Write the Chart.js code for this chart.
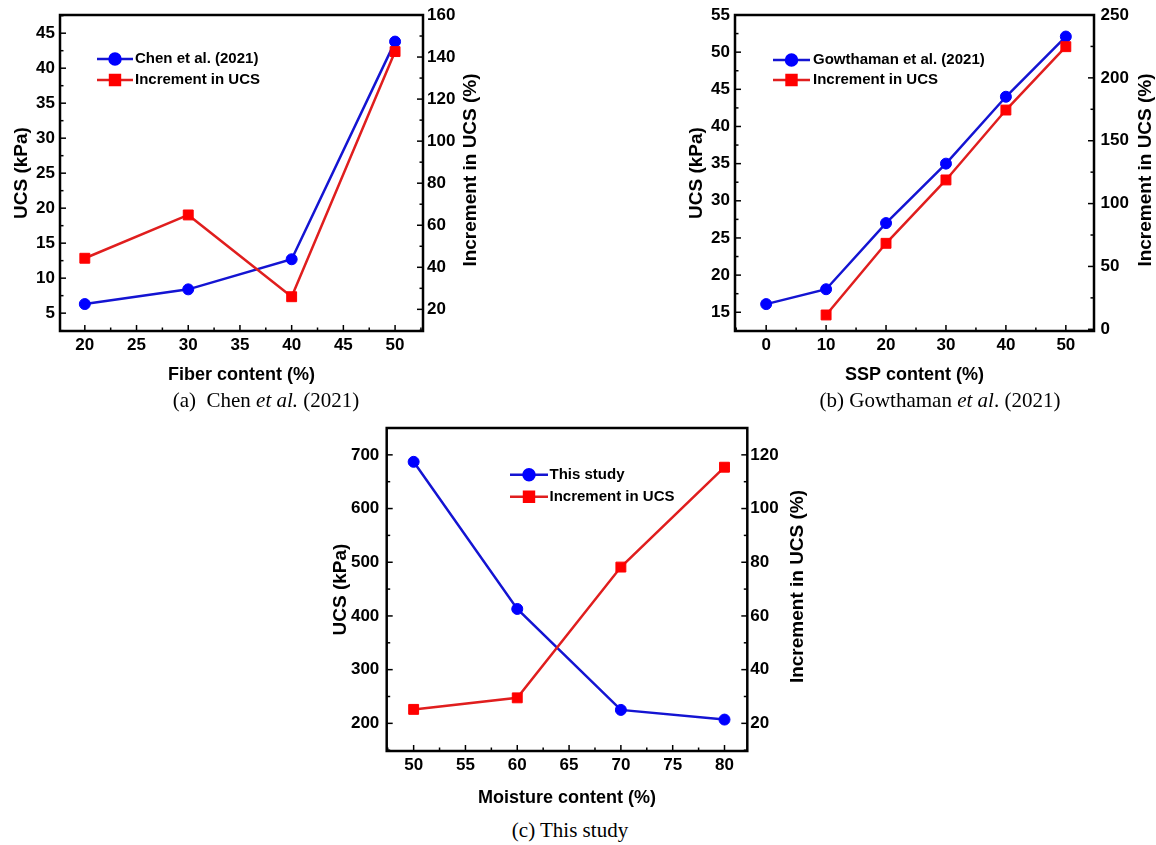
<!DOCTYPE html>
<html>
<head>
<meta charset="utf-8">
<script src="https://cdn.jsdelivr.net/npm/chart.js@4.4.1/dist/chart.umd.min.js"></script>
<style>
  body { margin: 0; background: #fff; width: 1156px; height: 845px; position: relative; overflow: hidden; }
  canvas { position: absolute; }
  .cap { position: absolute; font-family: "Liberation Serif", "Times New Roman", serif; font-size: 21px;
         white-space: pre; line-height: 1; transform: translate(-50%, -50%); color: #000; }
</style>
</head>
<body>
<canvas id="chartA" width="490" height="390" style="left:0;top:0"></canvas>
<canvas id="chartB" width="476" height="390" style="left:680px;top:0"></canvas>
<canvas id="chartC" width="500" height="390" style="left:320px;top:420px"></canvas>
<div class="cap" style="left:266px;top:400px">(a)  Chen <i>et al.</i> (2021)</div>
<div class="cap" style="left:940px;top:400px">(b) Gowthaman <i>et al</i>. (2021)</div>
<div class="cap" style="left:570px;top:830px">(c) This study</div>
<script>
// (a) Chen et al. (2021)
const fiberContent = [20, 30, 40, 50];
const chenUcs = [6.3, 8.4, 12.7, 43.8];
const chenIncrement = [44.3, 64.9, 26.0, 142.6];
const fiberTicks = [20, 25, 30, 35, 40, 45, 50];
const chenUcsTicks = [5, 10, 15, 20, 25, 30, 35, 40, 45];
const chenIncTicks = [20, 40, 60, 80, 100, 120, 140, 160];

// (b) Gowthaman et al. (2021)
const sspContent = [0, 10, 20, 30, 40, 50];
const gowUcs = [16.1, 18.1, 27.0, 35.0, 44.0, 52.1];
const gowIncrement = [null, 11.4, 68.4, 118.8, 174.4, 224.8];
const sspTicks = [0, 10, 20, 30, 40, 50];
const gowUcsTicks = [15, 20, 25, 30, 35, 40, 45, 50, 55];
const gowIncTicks = [0, 50, 100, 150, 200, 250];

// (c) This study
const moistureContent = [50, 60, 70, 80];
const studyUcs = [687, 413, 225, 207];
const studyIncrement = [25.2, 29.5, 78.2, 115.4];
const moistureTicks = [50, 55, 60, 65, 70, 75, 80];
const studyUcsTicks = [200, 300, 400, 500, 600, 700];
const studyIncTicks = [20, 40, 60, 80, 100, 120];

const FONT = '"Liberation Sans", Arial, sans-serif';
const BLUE = '#0000ff', BLUE_LINE = '#1414d2';
const RED = '#ff0000', RED_LINE = '#e01e1e';

// box around the plot + inward major/minor ticks
const frameTicks = {
  id: 'frameTicks',
  afterDatasetsDraw(chart) {
    const { ctx, chartArea: a } = chart;
    ctx.save();
    ctx.strokeStyle = '#000';
    ctx.lineWidth = 1.5;
    Object.values(chart.scales).forEach(s => {
      const major = s.ticks.map(t => t.value);
      const half = (major[1] - major[0]) / 2;
      let v = major[0] - Math.floor((major[0] - s.min) / half) * half;
      for (; v <= s.max + 1e-9; v += half) {
        const isMajor = major.some(m => Math.abs(m - v) < 1e-9);
        const len = isMajor ? 6 : 3.5;
        const p = s.getPixelForValue(v);
        ctx.beginPath();
        if (s.axis === 'x') { ctx.moveTo(p, a.bottom); ctx.lineTo(p, a.bottom - len); }
        else if (s.position === 'left') { ctx.moveTo(a.left, p); ctx.lineTo(a.left + len, p); }
        else { ctx.moveTo(a.right, p); ctx.lineTo(a.right - len, p); }
        ctx.stroke();
      }
    });
    ctx.lineWidth = 2.5;
    ctx.strokeRect(a.left, a.top, a.right - a.left, a.bottom - a.top);
    ctx.restore();
  }
};

// right axis title, reading bottom to top like the left one
const rightTitle = {
  id: 'rightTitle',
  afterDraw(chart, args, opts) {
    const { ctx, chartArea: a } = chart;
    const s = chart.scales.y1;
    ctx.save();
    ctx.translate(s.right - opts.offset, (a.top + a.bottom) / 2 - 3);
    ctx.rotate(-Math.PI / 2);
    ctx.font = 'bold 19px ' + FONT;
    ctx.fillStyle = '#000';
    ctx.textAlign = 'center';
    ctx.textBaseline = 'middle';
    ctx.fillText(s.options.title.text, 0, 0);
    ctx.restore();
  }
};

// legend drawn inside the plot area
const insideLegend = {
  id: 'insideLegend',
  afterDraw(chart, args, opts) {
    const { ctx, chartArea: a } = chart;
    const x0 = a.left + opts.dx, y0 = a.top + opts.dy;
    chart.data.datasets.forEach((ds, i) => {
      const y = y0 + i * opts.gap;
      ctx.save();
      ctx.strokeStyle = ds.borderColor;
      ctx.lineWidth = ds.borderWidth;
      ctx.beginPath(); ctx.moveTo(x0, y); ctx.lineTo(x0 + opts.len, y); ctx.stroke();
      ctx.fillStyle = ds.pointBackgroundColor;
      ctx.strokeStyle = ds.pointBorderColor;
      Chart.helpers.drawPoint(ctx, { pointStyle: ds.pointStyle, radius: ds.pointRadius, borderWidth: 1, rotation: 0 },
        x0 + opts.len / 2, y);
      ctx.fillStyle = '#000';
      ctx.font = 'bold 15px ' + FONT;
      ctx.textBaseline = 'middle';
      ctx.fillText(ds.label, x0 + opts.len + opts.textGap, y);
      ctx.restore();
    });
  }
};

function axis(pos, min, max, ticks, title, o) {
  const horizontal = pos === 'bottom';
  return {
    type: 'linear', position: pos, min, max,
    afterBuildTicks: s => { s.ticks = ticks.map(v => ({ value: v })); },
    afterFit: s => {
      if (horizontal) { s.height = o.size; s.paddingLeft = 0; s.paddingRight = 0; }
      else { s.width = o.size; s.paddingTop = 0; s.paddingBottom = 0; }
    },
    grid: { display: false, drawTicks: false },
    border: { display: false },
    ticks: { autoSkip: false, maxRotation: 0, color: '#000', padding: o.tickPad,
             font: { family: FONT, weight: 'bold', size: 17 } },
    title: { display: pos !== 'right', text: title, color: '#000', padding: o.titlePad,
             font: { family: FONT, weight: 'bold', size: horizontal ? 18 : 19 } }
  };
}

function ucsChart(id, o) {
  return new Chart(document.getElementById(id), {
    type: 'line',
    data: {
      datasets: [
        { label: o.label, data: o.x.map((x, i) => ({ x, y: o.ucs[i] })), yAxisID: 'y', order: 1,
          borderColor: BLUE_LINE, borderWidth: 2.5, pointStyle: 'circle', pointRadius: 5.5,
          pointBackgroundColor: BLUE, pointBorderColor: BLUE, pointBorderWidth: 1 },
        { label: 'Increment in UCS', data: o.x.map((x, i) => ({ x, y: o.inc[i] })), yAxisID: 'y1', order: 0,
          borderColor: RED_LINE, borderWidth: 2.5, pointStyle: 'rect', pointRadius: 7,
          pointBackgroundColor: RED, pointBorderColor: RED, pointBorderWidth: 1 }
      ]
    },
    options: {
      responsive: false,
      animation: false,
      layout: { padding: { top: o.top, left: 0, right: 0, bottom: 0 } },
      plugins: {
        legend: { display: false }, tooltip: { enabled: false },
        insideLegend: o.legend, rightTitle: { offset: o.y1TitleOffset }
      },
      scales: {
        x: axis('bottom', o.xRange[0], o.xRange[1], o.xTicks, o.xTitle,
                { size: o.xH, tickPad: 4, titlePad: { bottom: o.xTitlePad } }),
        y: axis('left', o.yRange[0], o.yRange[1], o.yTicks, 'UCS (kPa)',
                { size: o.yW, tickPad: o.yTickPad, titlePad: { top: o.yTitlePad } }),
        y1: axis('right', o.y1Range[0], o.y1Range[1], o.y1Ticks, 'Increment in UCS (%)',
                { size: o.y1W, tickPad: o.y1TickPad, titlePad: 0 })
      }
    },
    plugins: [frameTicks, insideLegend, rightTitle]
  });
}

ucsChart('chartA', {
  label: 'Chen et al. (2021)', x: fiberContent, ucs: chenUcs, inc: chenIncrement,
  xTicks: fiberTicks, yTicks: chenUcsTicks, y1Ticks: chenIncTicks,
  xRange: [17.6, 52.7], yRange: [2.45, 47.6], y1Range: [9.7, 160],
  xTitle: 'Fiber content (%)', top: 15, xH: 59, yW: 60, y1W: 67,
  xTitlePad: 4, yTickPad: 5, y1TickPad: 4, yTitlePad: 10, y1TitleOffset: 19,
  legend: { dx: 37, dy: 44, gap: 21, len: 36, textGap: 2 }
});

ucsChart('chartB', {
  label: 'Gowthaman et al. (2021)', x: sspContent, ucs: gowUcs, inc: gowIncrement,
  xTicks: sspTicks, yTicks: gowUcsTicks, y1Ticks: gowIncTicks,
  xRange: [-5.2, 54.7], yRange: [12.48, 55], y1Range: [-1.35, 250],
  xTitle: 'SSP content (%)', top: 15, xH: 59, yW: 55, y1W: 62,
  xTitlePad: 4, yTickPad: 5, y1TickPad: 6.5, yTitlePad: 5, y1TitleOffset: 10,
  legend: { dx: 38, dy: 45, gap: 20, len: 37, textGap: 3 }
});

ucsChart('chartC', {
  label: 'This study', x: moistureContent, ucs: studyUcs, inc: studyIncrement,
  xTicks: moistureTicks, yTicks: studyUcsTicks, y1Ticks: studyIncTicks,
  xRange: [47.4, 82.2], yRange: [148.5, 750], y1Range: [9.7, 130],
  xTitle: 'Moisture content (%)', top: 7.3, xH: 59, yW: 66.7, y1W: 72.7,
  xTitlePad: 1, yTickPad: 7.4, y1TickPad: 3, yTitlePad: 9, y1TitleOffset: 22,
  legend: { dx: 123.3, dy: 46.7, gap: 22, len: 38, textGap: 1.5 }
});
</script>
</body>
</html>
